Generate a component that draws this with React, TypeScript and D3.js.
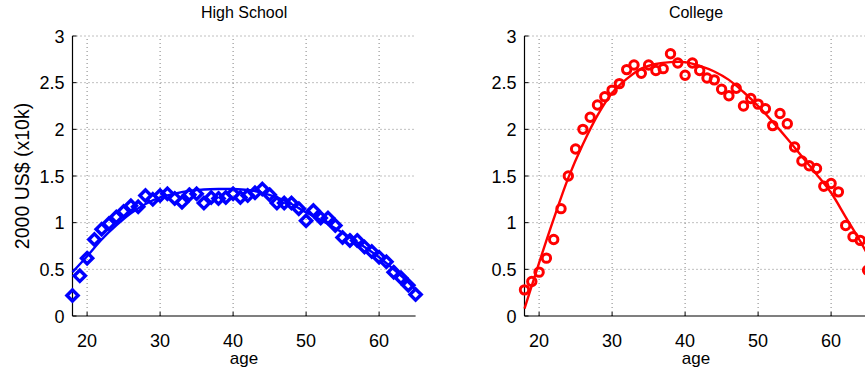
import React from "react";
import * as d3 from "d3";

const ages: number[] = [18,19,20,21,22,23,24,25,26,27,28,29,30,31,32,33,34,35,36,37,38,39,40,41,42,43,44,45,46,47,48,49,50,51,52,53,54,55,56,57,58,59,60,61,62,63,64,65];

const highSchool: number[] = [0.22,0.43,0.62,0.82,0.93,0.99,1.06,1.12,1.18,1.17,1.29,1.25,1.29,1.31,1.26,1.22,1.30,1.31,1.21,1.27,1.26,1.27,1.31,1.27,1.29,1.32,1.36,1.30,1.21,1.21,1.21,1.15,1.02,1.13,1.05,1.05,0.97,0.84,0.81,0.81,0.74,0.69,0.63,0.58,0.47,0.41,0.33,0.23];

const college: number[] = [0.28,0.37,0.47,0.62,0.82,1.15,1.50,1.79,2.00,2.13,2.26,2.35,2.42,2.49,2.64,2.69,2.60,2.69,2.63,2.65,2.81,2.71,2.58,2.71,2.63,2.55,2.53,2.43,2.36,2.44,2.25,2.33,2.27,2.22,2.04,2.17,2.06,1.81,1.66,1.61,1.58,1.39,1.42,1.33,0.97,0.85,0.81,0.49];

const fitAges: number[] = [18,20,22,24,26,28,30,32,34,36,38,40,42,44,46,48,50,52,54,56,58,60,62,64,65];
const highSchoolFit: number[] = [0.47,0.64,0.82,0.97,1.10,1.20,1.27,1.31,1.34,1.355,1.36,1.36,1.35,1.32,1.27,1.20,1.11,1.03,0.94,0.84,0.74,0.63,0.50,0.36,0.28];
const collegeFit: number[] = [0.08,0.57,1.04,1.48,1.84,2.15,2.39,2.54,2.65,2.70,2.72,2.72,2.68,2.62,2.53,2.40,2.25,2.08,1.90,1.71,1.52,1.32,1.06,0.80,0.66];

const xTicks: number[] = [20,30,40,50,60];
const yTicks: number[] = [0,0.5,1,1.5,2,2.5,3];
const yTickLabels: string[] = ["0","0.5","1","1.5","2","2.5","3"];
const titles: string[] = ["High School","College"];

const W = 865, H = 370;
const FONT = "'Liberation Sans', Arial, Helvetica, sans-serif";

type PanelProps = { x0: number; x1: number; title: string; values: number[]; fit: number[]; color: string; marker: "diamond" | "circle"; showYLabel: boolean };

function Panel({ x0, x1, title, values, fit, color, marker, showYLabel }: PanelProps) {
  const xs = d3.scaleLinear().domain([18, 65]).range([x0, x1]);
  const ys = d3.scaleLinear().domain([0, 3]).range([316, 36]);
  const line = d3.line<number>().x((_, i) => xs(fitAges[i])).y((d) => ys(d)).curve(d3.curveCatmullRom);
  const diamond = (r: number) => `M0,${-r}L${r},0L0,${r}L${-r},0Z`;
  const grid = "#808080";
  return (
    <g>
      {xTicks.map((t) => (
        <line key={"gx" + t} x1={xs(t)} x2={xs(t)} y1={ys(0)} y2={ys(3)} stroke={grid} strokeWidth={1} strokeDasharray="1,3" />
      ))}
      {yTicks.filter((t) => t > 0).map((t) => (
        <line key={"gy" + t} x1={xs(18)} x2={xs(65)} y1={ys(t)} y2={ys(t)} stroke={grid} strokeWidth={1} strokeDasharray="1,3" />
      ))}
      <line x1={x0} x2={x0} y1={ys(0)} y2={ys(3)} stroke="#000" strokeWidth={1.2} />
      <line x1={x0} x2={x1} y1={ys(0)} y2={ys(0)} stroke="#000" strokeWidth={1.2} />
      {xTicks.map((t) => (
        <line key={"tx" + t} x1={xs(t)} x2={xs(t)} y1={ys(0)} y2={ys(0) - 4} stroke="#000" strokeWidth={1} />
      ))}
      {yTicks.map((t) => (
        <line key={"ty" + t} x1={x0} x2={x0 + 4} y1={ys(t)} y2={ys(t)} stroke="#000" strokeWidth={1} />
      ))}
      {xTicks.map((t) => (
        <text key={"lx" + t} x={xs(t)} y={347} fontSize={18} fontFamily={FONT} textAnchor="middle">{t}</text>
      ))}
      {yTicks.map((t, i) => (
        <text key={"ly" + t} x={x0 - 8} y={ys(t) + 6.5} fontSize={18} fontFamily={FONT} textAnchor="end">{yTickLabels[i]}</text>
      ))}
      <text x={(x0 + x1) / 2} y={364} fontSize={17} fontFamily={FONT} textAnchor="middle">age</text>
      <text x={(x0 + x1) / 2} y={18} fontSize={16} fontFamily={FONT} textAnchor="middle">{title}</text>
      {showYLabel && (
        <text transform={`translate(29,176) rotate(-90)`} fontSize={19.5} fontFamily={FONT} textAnchor="middle">2000 US$ (x10k)</text>
      )}
      {values.map((v, i) =>
        marker === "diamond" ? (
          <path key={"m" + i} d={diamond(5.6)} transform={`translate(${xs(ages[i])},${ys(v)})`} fill="none" stroke={color} strokeWidth={3.4} />
        ) : (
          <circle key={"m" + i} cx={xs(ages[i])} cy={ys(v)} r={4.2} fill="none" stroke={color} strokeWidth={3} />
        )
      )}
      <path d={line(fit) || ""} fill="none" stroke={color} strokeWidth={2.4} />
    </g>
  );
}

export default function App() {
  return (
    <svg width={W} height={H} style={{ position: "absolute", left: 0, top: 0, background: "#fff" }}>
      <rect x={0} y={0} width={W} height={H} fill="#fff" />
      <Panel x0={72.5} x1={415.6} title={titles[0]} values={highSchool} fit={highSchoolFit} color="#0000ff" marker="diamond" showYLabel={true} />
      <Panel x0={524.5} x1={867.6} title={titles[1]} values={college} fit={collegeFit} color="#ff0000" marker="circle" showYLabel={false} />
    </svg>
  );
}
